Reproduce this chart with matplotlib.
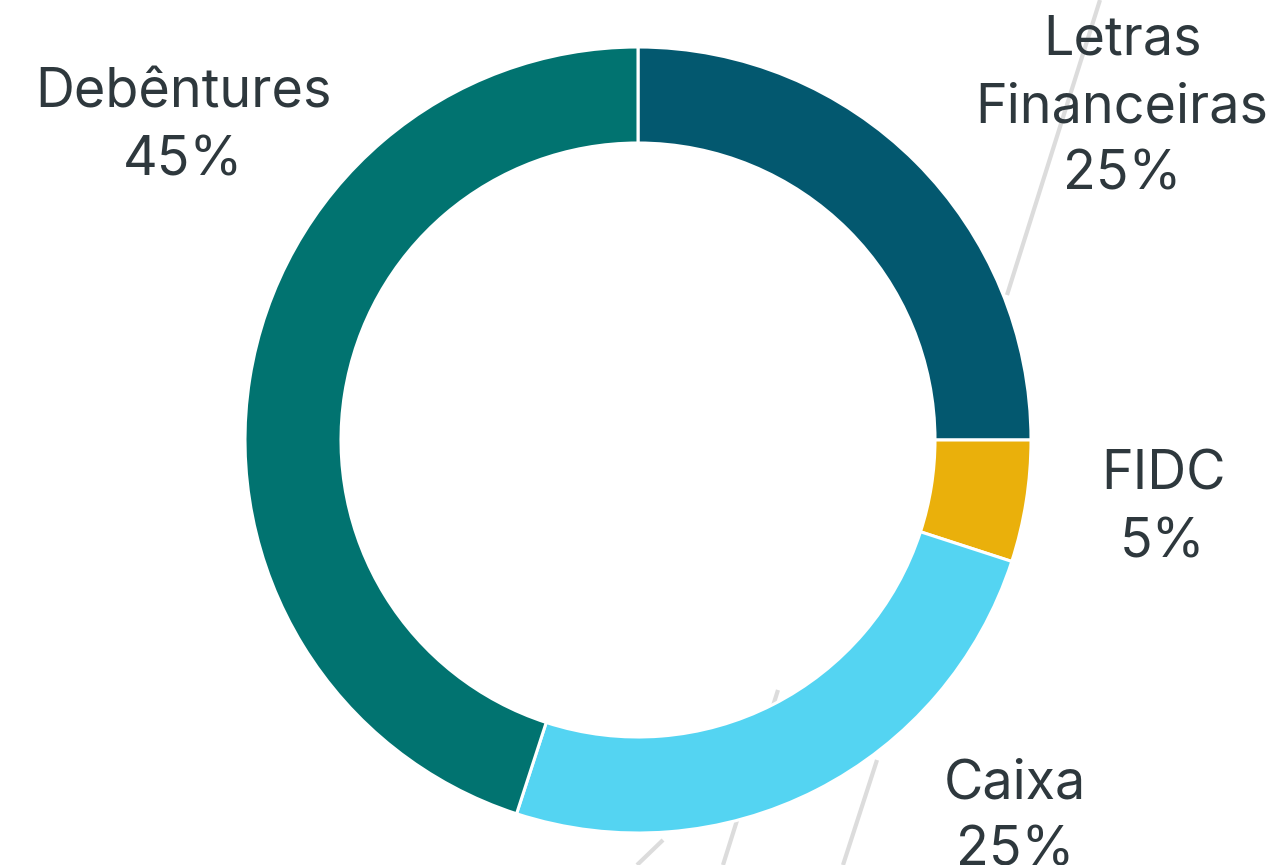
import matplotlib as mpl
mpl.use('Agg')
import matplotlib.pyplot as plt

plt.rcParams['font.family'] = ['Inter', 'DejaVu Sans']

# data
labels = ['Letras\nFinanceiras', 'FIDC', 'Caixa', 'Debêntures']
shares = [25, 5, 25, 45]
colors = ['#03586F', '#EAB00B', '#54D4F2', '#017370']

# label placement (figure px, last-line baseline)
label_pos = [(1122, 190), (1163, 557), (1015, 866), (183, 175)]

W, H = 1277, 865
fig = plt.figure(figsize=(W / 100, H / 100), dpi=100)
ax = fig.add_axes([0, 0, 1, 1])

# faint background strokes
deco = [((1100, 0), (1007, 295)),
        ((778, 690), (723, 865)),
        ((877, 760), (843, 865)),
        ((663, 840), (637, 865))]
for (x0, y0), (x1, y1) in deco:
    ax.plot([x0, x1], [H - y0, H - y1], color='#dcdcdc', lw=3,
            solid_capstyle='butt', zorder=0)

cx, cy, R = 638, H - 440, 393
ax.pie(shares, colors=colors, startangle=90, counterclock=False,
       center=(cx, cy), radius=R, frame=True,
       wedgeprops=dict(width=96, edgecolor='white', linewidth=2.2))
ax.set_xlim(0, W)
ax.set_ylim(0, H)
ax.axis('off')

for lab, val, (x, y) in zip(labels, shares, label_pos):
    ax.text(x, H - y, f'{lab}\n{val}%', ha='center', va='baseline',
            fontsize=38.8, color='#2E383D', linespacing=1.42,
            multialignment='center', zorder=5)

fig.savefig('out.png', dpi=100)
